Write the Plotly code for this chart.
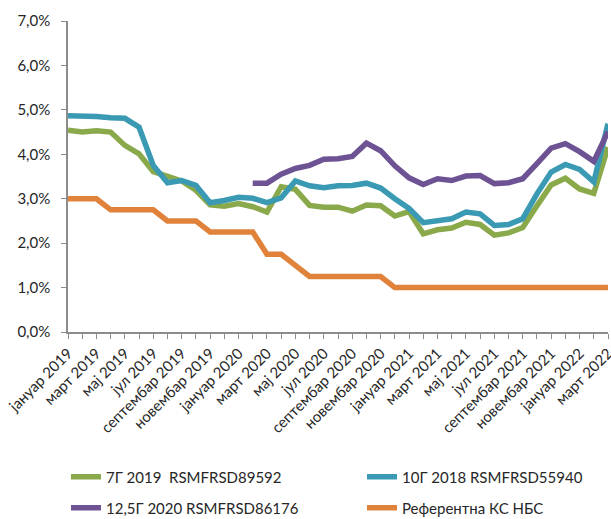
import plotly.graph_objects as go

# Monthly periods, January 2019 - March 2022
MONTHS = ["јануар", "фебруар", "март", "април", "мај", "јун",
          "јул", "август", "септембар", "октобар", "новембар", "децембар"]
periods = [f"{MONTHS[(k) % 12]} {2019 + k // 12}" for k in range(39)]

# Only every second month is labelled on the axis
tick_labels = [p if k % 2 == 0 else "" for k, p in enumerate(periods)]

# Yields (%)
bond_7y_2019 = [4.54, 4.50, 4.53, 4.50, 4.20, 4.01, 3.61, 3.49, 3.40, 3.19,
                2.86, 2.83, 2.89, 2.82, 2.70, 3.27, 3.21, 2.85, 2.81, 2.81,
                2.72, 2.86, 2.84, 2.61, 2.71, 2.21, 2.30, 2.34, 2.47, 2.42,
                2.18, 2.23, 2.35, 2.84, 3.31, 3.46, 3.22, 3.12, 4.16]
bond_10y_2018 = [4.87, 4.87, 4.85, 4.82, 4.81, 4.61, 3.75, 3.36, 3.41, 3.30,
                 2.91, 2.96, 3.03, 3.01, 2.91, 3.02, 3.40, 3.29, 3.25, 3.29,
                 3.30, 3.35, 3.24, 3.00, 2.78, 2.46, 2.50, 2.55, 2.70, 2.66,
                 2.40, 2.42, 2.55, 3.11, 3.60, 3.77, 3.66, 3.38, 4.69]
bond_125y_2020 = [None] * 13 + [3.35, 3.35, 3.55, 3.68, 3.75, 3.89, 3.90,
                               3.95, 4.25, 4.08, 3.74, 3.47, 3.32, 3.45,
                               3.41, 3.51, 3.52, 3.34, 3.36, 3.45, 3.79,
                               4.14, 4.24, 4.06, 3.84, 4.51]
key_policy_rate = [3.00, 3.00, 3.00, 2.75, 2.75, 2.75, 2.75, 2.50, 2.50, 2.50,
                   2.25, 2.25, 2.25, 2.25, 1.75, 1.75, 1.50, 1.25, 1.25, 1.25,
                   1.25, 1.25, 1.25, 1.00, 1.00, 1.00, 1.00, 1.00, 1.00, 1.00,
                   1.00, 1.00, 1.00, 1.00, 1.00, 1.00, 1.00, 1.00, 1.00]

series_names = ["7Г 2019\u00a0 RSMFRSD89592", "10Г 2018 RSMFRSD55940",
                "12,5Г 2020 RSMFRSD86176", "Референтна КС НБС"]
series_values = [bond_7y_2019, bond_10y_2018, bond_125y_2020, key_policy_rate]
series_colors = ["#8AA94A", "#3B9AB3", "#6D5394", "#E0823A"]

FONT = "Lato"
TEXT = "#262626"
AXIS = "#8C8C8C"
W, H = 611, 519

# Legend laid out as a 2x2 grid, one legend box per entry (pixel anchors)
legend_slots = [(66, 477), (362, 477), (66, 508), (362, 508)]

fig = go.Figure()
layout_legends = {}
for k, (name, values, color) in enumerate(zip(series_names, series_values,
                                              series_colors)):
    lg = "legend" if k == 0 else f"legend{k + 1}"
    fig.add_trace(go.Scatter(
        x=periods, y=values, name=name, mode="lines",
        line=dict(color=color, width=5.5),
        connectgaps=False, legend=lg,
    ))
    px, py = legend_slots[k]
    layout_legends[lg] = dict(
        orientation="h", xanchor="left", yanchor="middle",
        xref="container", yref="container",
        x=px / W, y=1 - py / H,
        font=dict(family=FONT, size=15, color=TEXT),
        bgcolor="rgba(0,0,0,0)", itemclick=False, itemdoubleclick=False,
    )

fig.update_layout(
    width=W, height=H,
    margin=dict(l=68, r=3, t=21, b=187, autoexpand=False),
    paper_bgcolor="white", plot_bgcolor="white",
    separators=", ",
    font=dict(family=FONT, size=15, color=TEXT),
    showlegend=True,
    xaxis=dict(
        type="category", range=[0, 38], automargin=False,
        tickmode="array", tickvals=periods, ticktext=tick_labels,
        tickangle=-45, ticks="outside", ticklen=5, tickcolor=AXIS,
        showline=True, linecolor=AXIS, linewidth=1.5,
        showgrid=False, zeroline=False,
        tickfont=dict(family=FONT, size=15, color=TEXT),
    ),
    yaxis=dict(
        range=[0, 7], dtick=1, tick0=0, automargin=False,
        tickformat=".1f", ticksuffix="%",
        ticks="outside", ticklen=5, tickcolor=AXIS,
        ticklabelstandoff=8,
        showline=True, linecolor=AXIS, linewidth=1.5,
        showgrid=False, zeroline=False,
        tickfont=dict(family=FONT, size=15, color=TEXT),
    ),
    **layout_legends,
)

fig.write_html("out.html")
